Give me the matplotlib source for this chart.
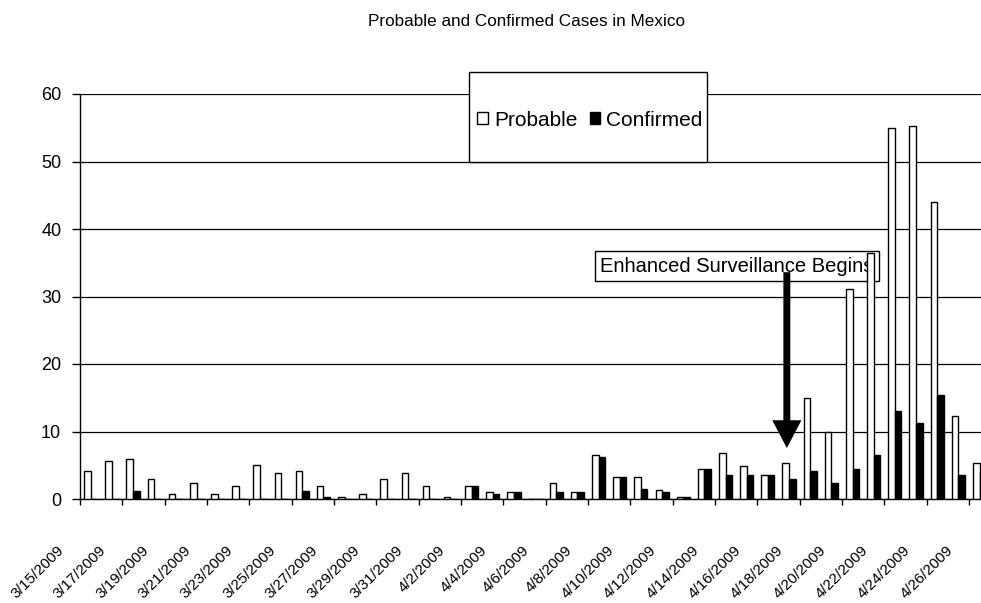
import numpy as np
import matplotlib
matplotlib.use('Agg')
import matplotlib.pyplot as plt
from matplotlib.patches import Patch, Rectangle
from matplotlib.transforms import ScaledTranslation

plt.rcParams['font.family'] = ['Liberation Sans', 'DejaVu Sans']

# Daily counts, 3/15/2009 .. 4/26/2009
dates = ['3/15/2009', '3/16/2009', '3/17/2009', '3/18/2009', '3/19/2009',
         '3/20/2009', '3/21/2009', '3/22/2009', '3/23/2009', '3/24/2009',
         '3/25/2009', '3/26/2009', '3/27/2009', '3/28/2009', '3/29/2009',
         '3/30/2009', '3/31/2009', '4/1/2009', '4/2/2009', '4/3/2009',
         '4/4/2009', '4/5/2009', '4/6/2009', '4/7/2009', '4/8/2009',
         '4/9/2009', '4/10/2009', '4/11/2009', '4/12/2009', '4/13/2009',
         '4/14/2009', '4/15/2009', '4/16/2009', '4/17/2009', '4/18/2009',
         '4/19/2009', '4/20/2009', '4/21/2009', '4/22/2009', '4/23/2009',
         '4/24/2009', '4/25/2009', '4/26/2009']

probable = [4.1, 5.6, 5.9, 3.0, 0.8, 2.3, 0.8, 2.0, 5.0, 3.8,
            4.1, 2.0, 0.3, 0.8, 2.9, 3.8, 2.0, 0.3, 2.0, 1.1,
            1.1, 0.0, 2.3, 1.1, 6.5, 3.2, 3.2, 1.4, 0.3, 4.4,
            6.8, 4.9, 3.5, 5.3, 15.0, 10.0, 31.1, 36.4, 55.0, 55.3,
            44.0, 12.3, 5.3]

confirmed = [0.0, 0.0, 1.2, 0.0, 0.0, 0.0, 0.0, 0.0, 0.0, 0.0,
             1.2, 0.3, 0.0, 0.0, 0.0, 0.0, 0.0, 0.0, 2.0, 0.8,
             1.1, 0.0, 1.1, 1.1, 6.2, 3.2, 1.5, 1.1, 0.3, 4.4,
             3.6, 3.6, 3.5, 3.0, 4.1, 2.3, 4.4, 6.5, 13.0, 11.3,
             15.4, 3.6, 4.0]

x = np.arange(len(dates))

fig = plt.figure(figsize=(9.81, 6.03), dpi=100)
# axes runs past the right edge of the picture, like the source
ax = fig.add_axes([80 / 981, 104 / 603, 910 / 981, 405 / 603])

ax.bar(x - 0.15, probable, width=0.31, color='white', edgecolor='black',
       linewidth=1.0, zorder=3)
ax.bar(x + 0.16, confirmed, width=0.31, color='black', edgecolor='black',
       linewidth=1.0, zorder=3)

ax.set_xlim(-0.5, len(dates) - 0.5)
ax.set_ylim(0, 60)
ax.set_yticks(range(0, 61, 10))
ax.yaxis.grid(True, color='black', linewidth=0.9)
ax.set_axisbelow(True)
for s in ['top', 'right']:
    ax.spines[s].set_visible(False)
ax.spines['left'].set_linewidth(1.0)
ax.spines['bottom'].set_linewidth(1.0)
ax.tick_params(axis='y', length=6, width=1.0, pad=7.5, labelsize=13)

# labels every other day, tick marks between category pairs
ax.set_xticks(x[::2], dates[::2])
ax.set_xticks(np.arange(-0.5, len(dates) - 1, 2), minor=True)
ax.tick_params(axis='x', which='major', length=0, pad=31.5, labelsize=11)
ax.tick_params(axis='x', which='minor', length=4.5, width=1.0)
shift = ScaledTranslation(-0.24, 0, fig.dpi_scale_trans)
for lab in ax.get_xticklabels():
    lab.set_rotation(45)
    lab.set_ha('right')
    lab.set_va('top')
    lab.set_transform(lab.get_transform() + shift)

fig.text(527 / 981, 1 - 22 / 603, 'Probable and Confirmed Cases in Mexico',
         ha='center', va='center', fontsize=12.3)

# legend box
box = Rectangle((469 / 981, 1 - 162 / 603), 238 / 981, 90 / 603,
                transform=fig.transFigure, facecolor='white',
                edgecolor='black', linewidth=1.0, zorder=5, clip_on=False)
ax.add_patch(box)
handles = [Patch(facecolor='white', edgecolor='black', linewidth=1.0, label='Probable'),
           Patch(facecolor='black', edgecolor='black', linewidth=1.0, label='Confirmed')]
leg = ax.legend(handles=handles, ncol=2, frameon=False, fontsize=15,
                loc='center', bbox_to_anchor=(590 / 981, 1 - 120 / 603),
                bbox_transform=fig.transFigure, handlelength=0.5,
                handleheight=0.5, handletextpad=0.3, columnspacing=0.6)
leg.set_zorder(6)

# annotation
ax.text(737 / 981, 1 - 266 / 603, 'Enhanced Surveillance Begins',
        transform=fig.transFigure, ha='center', va='center', fontsize=14.5,
        bbox=dict(boxstyle='square,pad=0.25', facecolor='white',
                  edgecolor='black', linewidth=1.0), zorder=2)
ax.annotate('', xy=(32.9, 7.55), xytext=(32.9, 33.6),
            arrowprops=dict(arrowstyle='simple,head_length=1.0,head_width=1.05,tail_width=0.25',
                            mutation_scale=20, facecolor='black', edgecolor='black',
                            linewidth=0, shrinkA=0, shrinkB=0),
            zorder=4)

fig.savefig('out.png', dpi=100)
